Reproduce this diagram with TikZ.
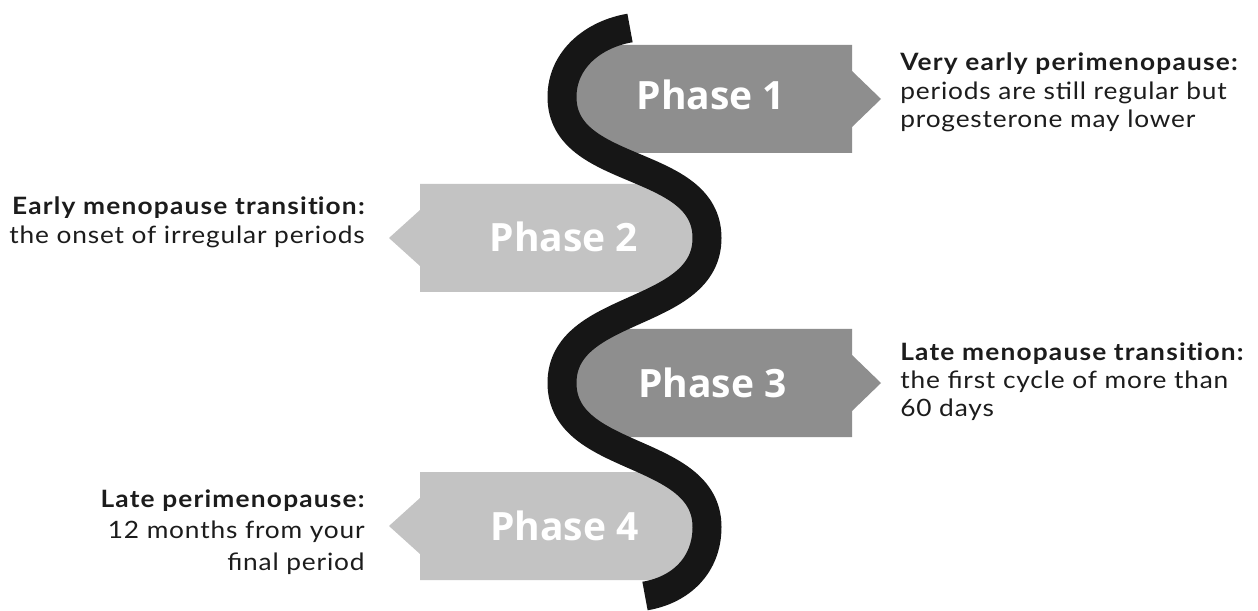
\documentclass[tikz,border=0pt]{standalone}
\usepackage{fontspec}
\setmainfont{Lato}[FakeStretch=1.1, LetterSpace=3.5, BoldFeatures={LetterSpace=5}]
\newfontfamily\phasefont{Open Sans}
\definecolor{spineblack}{HTML}{161616}
\definecolor{darkbox}{HTML}{8E8E8E}
\definecolor{lightbox}{HTML}{C3C3C3}
\definecolor{inktext}{HTML}{1C1C1C}
\begin{document}
\begin{tikzpicture}[x=0.02cm,y=-0.02cm,
  % centre line of the black S-shaped band, continuing from its top end (630,28)
  spine/.style={insert path={
      .. controls (594,34) and (562,59) .. (562,97)
      .. controls (562,177) and (707,158) .. (707,238)
      .. controls (707,318) and (562,303) .. (562,383)
      .. controls (562,463) and (707,447) .. (707,527)
      .. controls (707,565) and (681,590) .. (645,596)}},
  band/.style={draw=spineblack, line width=16.5pt, line cap=butt},
  phase/.style={font=\phasefont\bfseries\fontsize{22.2}{26}\selectfont, text=white, inner sep=0pt, anchor=base},
  desc/.style={font=\fontsize{13.6}{16.2}\selectfont, text=inktext, inner sep=0pt},
  descwide/.style={font=\fontsize{13.6}{18.2}\selectfont, text=inktext, inner sep=0pt}]
\useasboundingbox (0,0) rectangle (1258,611);
\fill[white] (0,0) rectangle (1258,611);

% arrow boxes pointing right, bounded on the left by the band
\begin{scope}
  \clip (1300,-20) -- (630,-20) -- (630,28) [spine] -- (645,640) -- (1300,640) -- cycle;
  \fill[darkbox] (520,45) -- (852,45) -- (852,71) -- (881,99) -- (852,127) -- (852,153) -- (520,153) -- cycle;
  \fill[darkbox] (520,329) -- (852,329) -- (852,355) -- (881,383) -- (852,411) -- (852,437) -- (520,437) -- cycle;
\end{scope}

% arrow boxes pointing left, bounded on the right by the band
\begin{scope}
  \clip (-20,-20) -- (630,-20) -- (630,28) [spine] -- (645,640) -- (-20,640) -- cycle;
  \fill[lightbox] (760,184) -- (420,184) -- (420,210) -- (389,238) -- (420,266) -- (420,292) -- (760,292) -- cycle;
  \fill[lightbox] (760,472) -- (420,472) -- (420,498) -- (389,526) -- (420,554) -- (420,580) -- (760,580) -- cycle;
\end{scope}

% the S-shaped band
\draw[band] (630,28) [spine];

% phase labels
\node[phase] (p1) at (711,110) {Phase 1};
\node[phase] (p2) at (564,251.5) {Phase 2};
\node[phase] (p3) at (712.5,398) {Phase 3};
\node[phase] (p4) at (564.5,540) {Phase 4};

% descriptions (the kern keeps "t" and "i" as separate letters)
\node[desc, anchor=base west] (d1) at (900,71) {\begin{tabular}[t]{@{}l@{}}\bfseries Very early perimenopause:\\ periods are still regular but\\ progesterone may lower\end{tabular}};
\node[desc, anchor=base east] (d2) at (365,215) {\begin{tabular}[t]{@{}r@{}}\bfseries Early menopause transit\kern0pt ion:\\ the onset of irregular periods\end{tabular}};
\node[desc, anchor=base west] (d3) at (900,360) {\begin{tabular}[t]{@{}l@{}}\bfseries Late menopause transit\kern0pt ion:\\ the first cycle of more than\\ 60 days\end{tabular}};
\node[descwide, anchor=base east] (d4) at (365,507) {\begin{tabular}[t]{@{}r@{}}\bfseries Late perimenopause:\\ 12 months from your\\ final period\end{tabular}};
\end{tikzpicture}
\end{document}
